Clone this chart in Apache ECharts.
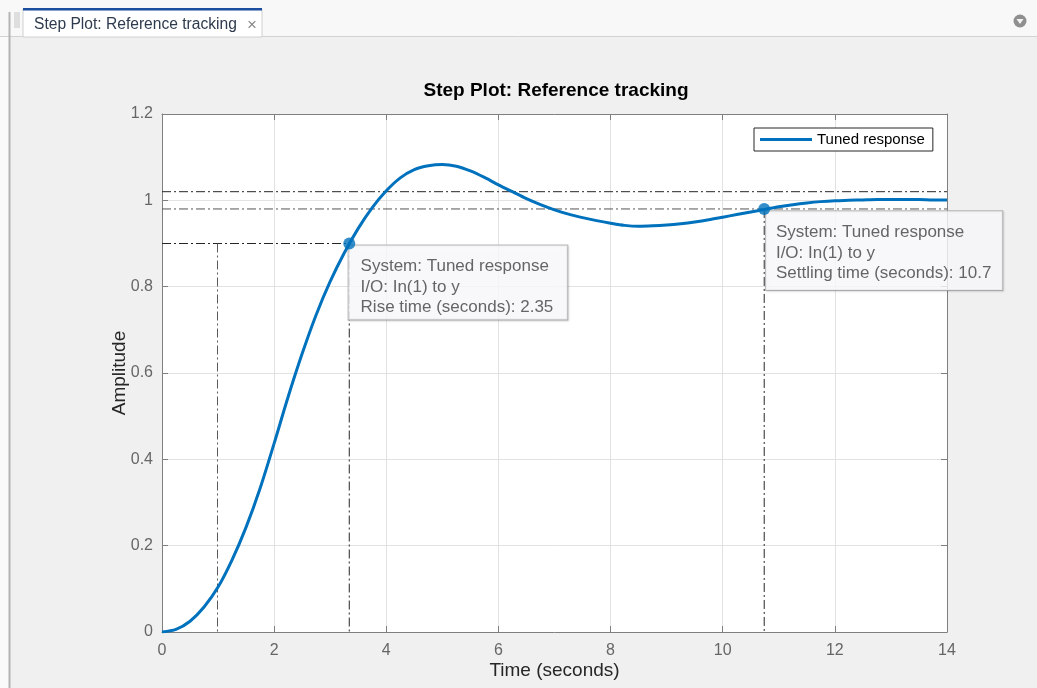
<!DOCTYPE html>
<html>
<head>
<meta charset="utf-8">
<script src="https://cdn.jsdelivr.net/npm/echarts@6/dist/echarts.min.js"></script>
<style>html,body{margin:0;padding:0;background:#f0f0f0;}#chart{width:1037px;height:688px;}</style>
</head>
<body>
<div id="chart"></div>
<script>
// ---- data ----
const times = [0, 0.25, 0.5, 0.75, 1, 1.25, 1.5, 1.75, 2, 2.25, 2.5, 2.75, 3, 3.25, 3.5, 3.75, 4, 4.25, 4.5, 4.75, 5, 5.25, 5.5, 5.75, 6, 6.25, 6.5, 6.75, 7, 7.25, 7.5, 7.75, 8, 8.25, 8.5, 8.75, 9, 9.25, 9.5, 9.75, 10, 10.25, 10.5, 10.75, 11, 11.25, 11.5, 11.75, 12, 12.25, 12.5, 12.75, 13, 13.25, 13.5, 13.75, 14];
const amplitude = [0, 0.006, 0.025, 0.058, 0.104, 0.167, 0.243, 0.333, 0.437, 0.545, 0.645, 0.735, 0.812, 0.878, 0.935, 0.983, 1.022, 1.052, 1.071, 1.080, 1.083, 1.079, 1.068, 1.053, 1.036, 1.020, 1.004, 0.990, 0.978, 0.968, 0.960, 0.953, 0.947, 0.942, 0.940, 0.941, 0.943, 0.946, 0.950, 0.955, 0.961, 0.967, 0.973, 0.979, 0.985, 0.990, 0.994, 0.997, 0.999, 1.000, 1.001, 1.002, 1.002, 1.002, 1.002, 1.001, 1.001];
const xTicks = [0, 2, 4, 6, 8, 10, 12, 14];
const yTicks = [0, 0.2, 0.4, 0.6, 0.8, 1, 1.2];
const riseStart = 0.99, riseEnd = 3.34, riseLevel = 0.9;
const settleTime = 10.74, settleUpper = 1.02, settleLower = 0.98;
const seriesName = 'Tuned response';
const chartTitle = 'Step Plot: Reference tracking';
const tabTitle = 'Step Plot: Reference tracking';
const xLabel = 'Time (seconds)';
const yLabel = 'Amplitude';
const riseTip = ['System: Tuned response', 'I/O: In(1) to y', 'Rise time (seconds): 2.35'];
const settleTip = ['System: Tuned response', 'I/O: In(1) to y', 'Settling time (seconds): 10.7'];

const FONT = '"Liberation Sans", Arial, Helvetica, sans-serif';
const BLUE = '#0072BD';
const AXIS = '#7f7f7f';
const DASHDOT = [9, 3, 2, 3];

const curve = times.map((t, i) => [t, amplitude[i]]);

function refLine(points, color) {
  return {
    type: 'line', data: points, symbol: 'none', silent: true, z: 2,
    lineStyle: { color: color, width: 1, type: DASHDOT }
  };
}

const tipLabel = {
  show: true, align: 'left', verticalAlign: 'top',
  fontFamily: FONT, fontSize: 17, color: '#404040', lineHeight: 20.7,
  backgroundColor: '#fcfcff', borderColor: '#a8a8a8', borderWidth: 1,
  shadowColor: 'rgba(0,0,0,0.12)', shadowBlur: 2, shadowOffsetX: 1, shadowOffsetY: 1
};

const chart = echarts.init(document.getElementById('chart'), null, { renderer: 'canvas' });

const grips = [];
for (let i = 0; i < 8; i++) {
  grips.push({ type: 'line', shape: { x1: 14, y1: 13 + i * 2, x2: 20, y2: 13 + i * 2 }, style: { stroke: '#c4c4c4', lineWidth: 1 }, z: -7 });
}

const axisLineStyle = { show: true, onZero: false, lineStyle: { color: AXIS, width: 1 } };
const axisTickStyle = { show: true, inside: true, length: 6, lineStyle: { color: AXIS } };

chart.setOption({
  backgroundColor: '#f0f0f0',
  animation: false,
  graphic: [
    { type: 'rect', shape: { x: 0, y: 0, width: 1037, height: 36 }, style: { fill: '#f8f8f8' }, z: -10 },
    { type: 'rect', shape: { x: 0, y: 36, width: 9, height: 652 }, style: { fill: '#fafafa' }, z: -10 },
    { type: 'line', shape: { x1: 0, y1: 36.5, x2: 1037, y2: 36.5 }, style: { stroke: '#d2d2d2', lineWidth: 1 }, z: -9 },
    { type: 'line', shape: { x1: 9.5, y1: 12, x2: 9.5, y2: 688 }, style: { stroke: '#b4b4b4', lineWidth: 2 }, z: -9 },
    { type: 'rect', shape: { x: 23, y: 9, width: 239, height: 28 }, style: { fill: '#ffffff', stroke: '#d0d0d0', lineWidth: 1 }, z: -8 },
    { type: 'rect', shape: { x: 23, y: 8, width: 239, height: 2.5 }, style: { fill: '#1a4d9e' }, z: -7 },
    { type: 'text', left: 34, top: 17, style: { text: tabTitle, fontFamily: FONT, fontSize: 15.6, fill: '#2e3b4e' }, z: -7 },
    { type: 'text', left: 247, top: 17, style: { text: '\u00d7', fontFamily: FONT, fontSize: 17, fill: '#8a8a8a' }, z: -7 },
    { type: 'circle', shape: { cx: 1020, cy: 21, r: 6.5 }, style: { fill: '#8f8f8f' }, z: -7 },
    { type: 'polygon', shape: { points: [[1016.5, 19], [1023.5, 19], [1020, 24]] }, style: { fill: '#f4f4f4' }, z: -6 },
    ...grips
  ],
  title: {
    text: chartTitle, left: 551, top: 76, textAlign: 'center',
    textStyle: { fontFamily: FONT, fontSize: 19, fontWeight: 'bold', color: '#000' }
  },
  legend: {
    data: [{ name: seriesName, icon: 'rect' }],
    left: 754, top: 128, orient: 'vertical',
    itemWidth: 52, itemHeight: 3,
    padding: [4, 8, 4, 6],
    backgroundColor: '#ffffff', borderColor: '#262626', borderWidth: 1, borderRadius: 0,
    textStyle: { fontFamily: FONT, fontSize: 15, color: '#000' },
    selectedMode: false
  },
  grid: { left: 162, right: 90, top: 114, bottom: 56, show: true, backgroundColor: '#ffffff', borderWidth: 0 },
  xAxis: [{
    type: 'value', min: 0, max: 14, interval: 2, position: 'bottom',
    name: xLabel, nameLocation: 'middle', nameGap: 29, nameMoveOverlap: false,
    nameTextStyle: { fontFamily: FONT, fontSize: 19, color: '#262626' },
    axisLine: axisLineStyle, axisTick: axisTickStyle,
    axisLabel: { fontFamily: FONT, fontSize: 16, color: '#666666', margin: 11, formatter: v => xTicks.includes(v) ? String(v) : '' },
    splitLine: { show: true, lineStyle: { color: '#e2e2e2', width: 1 } }
  }, {
    type: 'value', min: 0, max: 14, interval: 2, position: 'top',
    axisLine: axisLineStyle, axisTick: axisTickStyle,
    axisLabel: { show: false }, splitLine: { show: false }
  }],
  yAxis: [{
    type: 'value', min: 0, max: 1.2, interval: 0.2, position: 'left',
    name: yLabel, nameLocation: 'middle', nameGap: 33, nameRotate: 90, nameMoveOverlap: false,
    nameTextStyle: { fontFamily: FONT, fontSize: 19, color: '#262626' },
    axisLine: axisLineStyle, axisTick: axisTickStyle,
    axisLabel: { fontFamily: FONT, fontSize: 16, color: '#666666', margin: 9,
      formatter: v => { const m = yTicks.find(t => Math.abs(t - v) < 1e-9); return m === undefined ? '' : String(m); } },
    splitLine: { show: true, lineStyle: { color: '#e2e2e2', width: 1 } }
  }, {
    type: 'value', min: 0, max: 1.2, interval: 0.2, position: 'right',
    axisLine: axisLineStyle, axisTick: axisTickStyle,
    axisLabel: { show: false }, splitLine: { show: false }
  }],
  series: [
    refLine([[0, settleUpper], [14, settleUpper]], '#262626'),
    refLine([[0, settleLower], [14, settleLower]], '#555555'),
    refLine([[0, riseLevel], [riseEnd, riseLevel]], '#262626'),
    refLine([[riseStart, riseLevel], [riseStart, 0]], '#5a5a5a'),
    refLine([[riseEnd, riseLevel], [riseEnd, 0]], '#262626'),
    refLine([[settleTime, settleLower], [settleTime, 0]], '#262626'),
    {
      type: 'scatter', symbolSize: 2, z: 3, silent: true, itemStyle: { color: 'rgba(0,0,0,0)' },
      data: [
        { value: [riseEnd, riseLevel], label: Object.assign({}, tipLabel, { position: [0.3, 3], padding: [10.5, 14, 1.5, 12], formatter: riseTip.join('\n') }) },
        { value: [settleTime, settleLower], label: Object.assign({}, tipLabel, { position: [2.7, 3.4], padding: [10.5, 11, 6, 10], formatter: settleTip.join('\n') }) }
      ]
    },
    {
      name: seriesName, type: 'line', data: curve, smooth: 0.3, symbol: 'none', z: 5,
      itemStyle: { color: BLUE },
      lineStyle: { color: BLUE, width: 3 }
    },
    {
      type: 'scatter', symbolSize: 12, z: 6, itemStyle: { color: BLUE },
      data: [[riseEnd, riseLevel], [settleTime, settleLower]]
    }
  ]
});
</script>
</body>
</html>
